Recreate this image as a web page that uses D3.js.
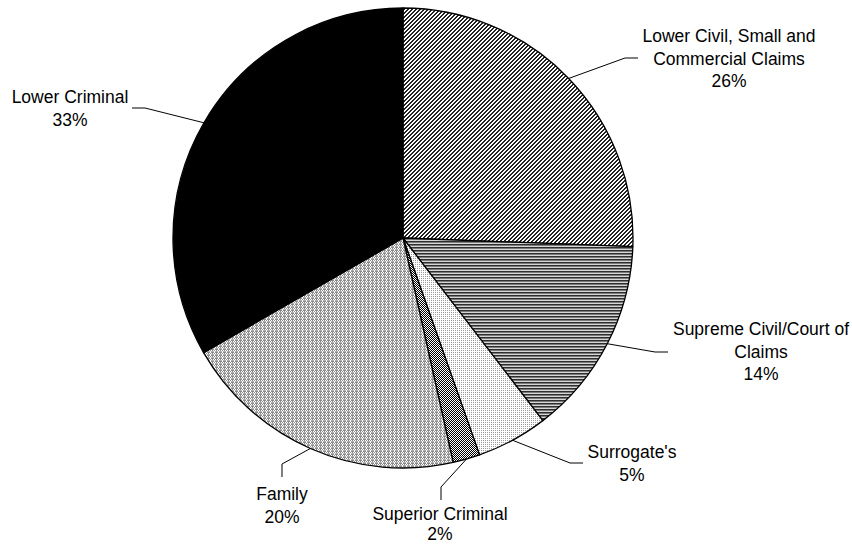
<!DOCTYPE html>
<html>
<head>
<meta charset="utf-8">
<script src="https://cdn.jsdelivr.net/npm/d3@7"></script>
<style>
  body { margin: 0; background: #fff; }
  text { font-family: "Liberation Sans", Arial, sans-serif; font-size: 17.5px; fill: #000; }
</style>
</head>
<body>
<div id="chart"></div>
<script>
// slice data, clockwise from 12 o'clock
var names = [
    ["Lower Civil, Small and", "Commercial Claims"],
    ["Supreme Civil/Court of", "Claims"],
    ["Surrogate's"],
    ["Superior Criminal"],
    ["Family"],
    ["Lower Criminal"]
];
var values = [25.6, 14.0, 5.0, 1.9, 20.2, 33.3];
var fills = ["url(#pDiag)", "url(#pHoriz)", "url(#pLight)", "url(#pCheck)", "url(#pFamily)", "#000"];

// label layout: text center x, first baseline y, leader elbow and end
var labelX = [729, 761, 632, 440, 282, 70];
var labelY = [42, 335, 458, 520, 500, 103];
var elbowX = [625, 655, 570, 441, 282, 145];
var elbowY = [58, 352, 463, 487, 464, 108];
var endX = [638, 668, 583, 441, 282, 132];
var endY = [58, 352, 463, 500, 477, 108];

var width = 852, height = 544;
var cx = 403, cy = 238, radius = 230;

var svg = d3.select("#chart")
    .append("svg")
    .attr("width", width)
    .attr("height", height);

var defs = svg.append("defs");

function pattern(id, w, h, bg, cells) {
    var p = defs.append("pattern")
        .attr("id", id)
        .attr("patternUnits", "userSpaceOnUse")
        .attr("width", w)
        .attr("height", h);
    p.append("rect").attr("width", w).attr("height", h).attr("fill", bg);
    cells.forEach(function (c) {
        p.append("rect")
            .attr("x", c[0]).attr("y", c[1])
            .attr("width", c[2]).attr("height", c[3])
            .attr("fill", c[4]);
    });
}

// diagonal hatch
pattern("pDiag", 4, 4, "#fff", [
    [0, 0, 1, 1, "#222"], [3, 0, 1, 1, "#222"],
    [2, 1, 2, 1, "#222"], [1, 2, 2, 1, "#222"],
    [0, 3, 2, 1, "#222"]
]);
// horizontal lines
pattern("pHoriz", 3, 3, "#d6d6d6", [
    [0, 0, 3, 1, "#2e2e2e"], [0, 1, 3, 1, "#7a7a7a"]
]);
// light dots
pattern("pLight", 2, 2, "#fff", [
    [0, 0, 1, 1, "#9a9a9a"]
]);
// checker
pattern("pCheck", 2, 2, "#fff", [
    [0, 0, 1, 1, "#000"], [1, 1, 1, 1, "#000"]
]);
// family grid
pattern("pFamily", 4, 3, "#fff", [
    [0, 0, 3, 1, "#8a8a8a"], [1, 1, 1, 1, "#8a8a8a"], [3, 1, 1, 1, "#8a8a8a"],
    [0, 2, 3, 1, "#b0b0b0"]
]);

var pie = d3.pie().sort(null).value(function (d) { return d; });
var arcs = pie(values);
var arc = d3.arc().innerRadius(0).outerRadius(radius);

var g = svg.append("g")
    .attr("transform", "translate(" + cx + "," + cy + ")");

g.selectAll("path")
    .data(arcs)
    .enter()
    .append("path")
    .attr("d", arc)
    .attr("fill", function (d, i) { return fills[i]; })
    .attr("stroke", "#000")
    .attr("stroke-width", 1.3)
    .attr("stroke-linejoin", "round");

// leader lines
arcs.forEach(function (d, i) {
    var a = (d.startAngle + d.endAngle) / 2;
    var sx = cx + Math.sin(a) * radius;
    var sy = cy - Math.cos(a) * radius;
    svg.append("polyline")
        .attr("points", [[sx, sy], [elbowX[i], elbowY[i]], [endX[i], endY[i]]].join(" "))
        .attr("fill", "none")
        .attr("stroke", "#000")
        .attr("stroke-width", 1);
});

// labels
arcs.forEach(function (d, i) {
    var lines = names[i].concat([Math.round(values[i]) + "%"]);
    var t = svg.append("text")
        .attr("text-anchor", "middle")
        .attr("x", labelX[i])
        .attr("y", labelY[i]);
    lines.forEach(function (s, k) {
        t.append("tspan")
            .attr("x", labelX[i])
            .attr("dy", k === 0 ? 0 : (i === 3 ? 20 : 22.7))
            .text(s);
    });
});
</script>
</body>
</html>
